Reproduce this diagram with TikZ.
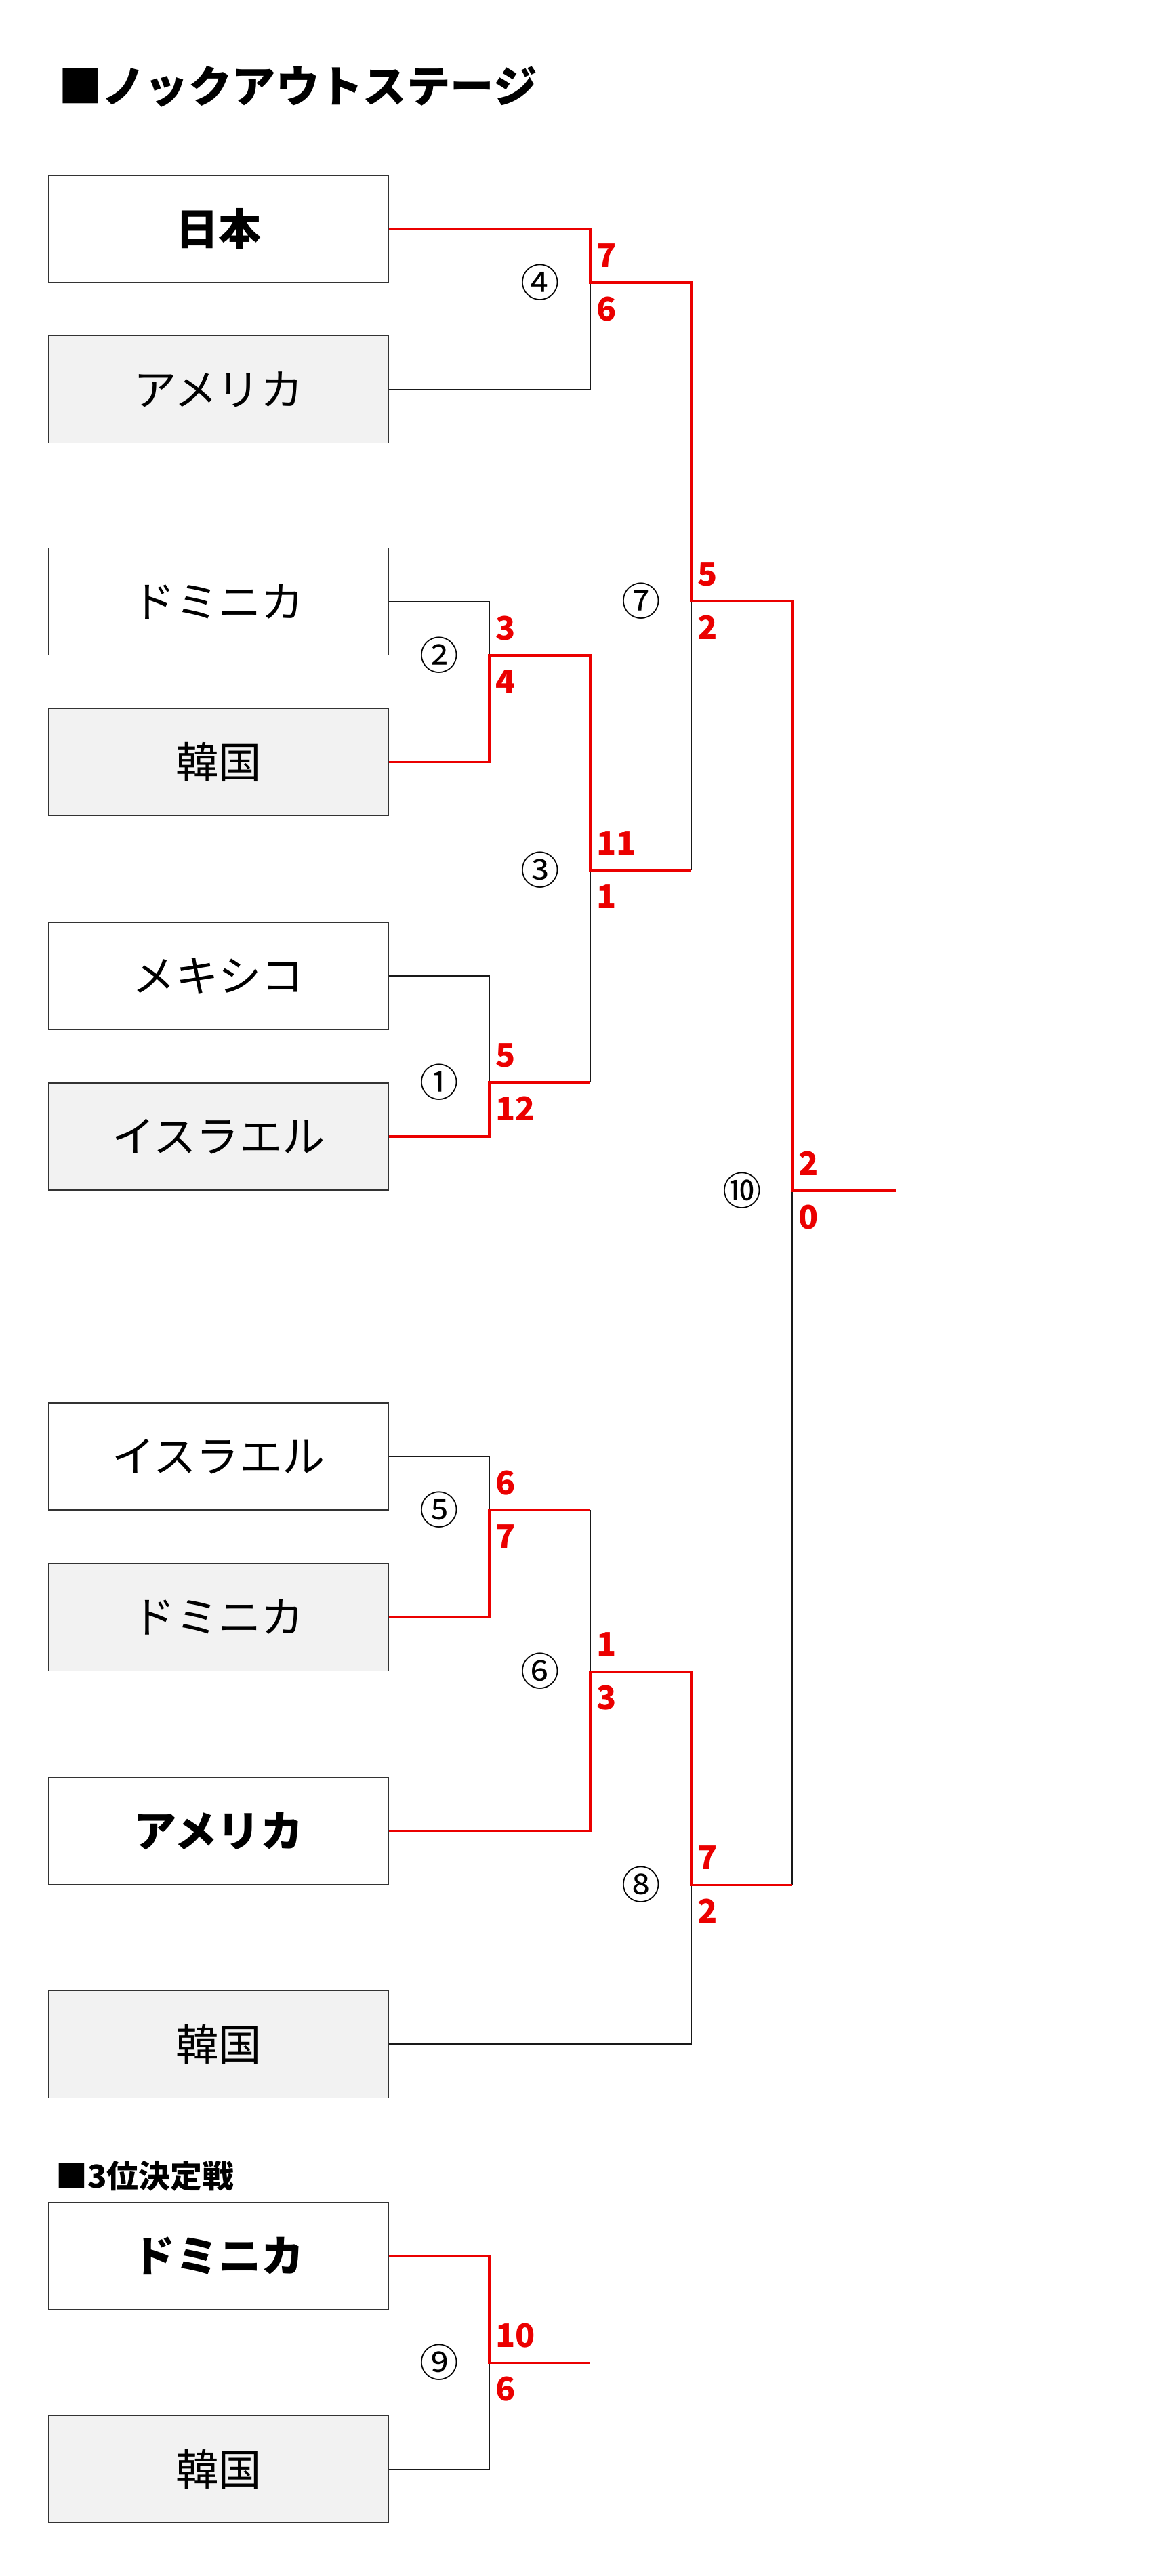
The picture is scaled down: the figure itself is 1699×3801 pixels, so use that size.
\documentclass[tikz,border=0pt]{standalone}
\usepackage{fontspec}
\setmainfont{Noto Sans CJK JP}
\usepackage{tikz}
\usetikzlibrary{calc}
\definecolor{winred}{RGB}{235,0,0}
\definecolor{lowfill}{RGB}{242,242,242}

\begin{document}
\begin{tikzpicture}[
    x=0.3mm, y=-0.3mm,
    team/.style={rectangle, draw=black!80, line width=0.9pt,
                minimum width=150.3mm, minimum height=47.4mm,
                inner sep=0pt, font=\fontsize{54}{60}\selectfont},
    low/.style={fill=lowfill},
    hl/.style={font=\fontsize{54}{60}\selectfont\bfseries},
    lose/.style={draw=black!90, line width=1pt},
    win/.style={draw=winred, line width=2.6pt},
    score/.style={anchor=west, inner sep=0pt, text=winred,
                font=\fontsize{41}{45}\selectfont\bfseries},
    game/.style={inner sep=0pt, font=\fontsize{49}{52}\selectfont},
    head/.style={anchor=west, inner sep=0pt, font=\bfseries}
]
\useasboundingbox (0,0) rectangle (1699,3801);

% Headings
\node[head, font=\fontsize{55}{60}\selectfont\bfseries] (title) at (86,128) {■ノックアウトステージ};
\node[head, font=\fontsize{40}{44}\selectfont\bfseries] (third) at (82,3211) {■3位決定戦};

% Teams
\node[team, hl] (jpn) at (322.5,337.5) {日本};
\node[team, low] (usa1) at (322.5,574.5) {アメリカ};
\node[team] (dom1) at (322.5,887.5) {ドミニカ};
\node[team, low] (kor1) at (322.5,1124.5) {韓国};
\node[team] (mex) at (322.5,1440) {メキシコ};
\node[team, low] (isr1) at (322.5,1677) {イスラエル};
\node[team] (isr2) at (322.5,2149) {イスラエル};
\node[team, low] (dom2) at (322.5,2386) {ドミニカ};
\node[team, hl] (usa2) at (322.5,2701.5) {アメリカ};
\node[team, low] (kor2) at (322.5,3016) {韓国};
\node[team, hl] (dom3) at (322.5,3328.5) {ドミニカ};
\node[team, low] (kor3) at (322.5,3643.5) {韓国};

% Junctions
\coordinate (j1) at (722,1597);
\coordinate (j2) at (722,967);
\coordinate (j3) at (871,1284);
\coordinate (j4) at (871,417);
\coordinate (j5) at (722,2228);
\coordinate (j6) at (871,2466);
\coordinate (j7) at (1020,887);
\coordinate (j8) at (1020,2781);
\coordinate (j9) at (722,3486);
\coordinate (j10) at (1169,1757);
\coordinate (fin) at (1322,1757);
\coordinate (fin9) at (871,3486);

% Lost sides
\draw[lose] (usa1.east) -| (j4);
\draw[lose] (dom1.east) -| (j2);
\draw[lose] (mex.east) -| (j1);
\draw[lose] (j1 -| j3) -- (j3);
\draw[lose] (j3 -| j7) -- (j7);
\draw[lose] (isr2.east) -| (j5);
\draw[lose] (j5 -| j6) -- (j6);
\draw[lose] (kor2.east) -| (j8);
\draw[lose] (j8 -| j10) -- (j10);
\draw[lose] (kor3.east) -| (j9);

% Winners
\draw[win] (jpn.east) -| (j4) -| (j7) -| (j10) -- (fin);
\draw[win] (kor1.east) -| (j2) -| (j3) -- (j3 -| j7);
\draw[win] (isr1.east) -| (j1) -- (j1 -| j3);
\draw[win] (dom2.east) -| (j5) -- (j5 -| j6);
\draw[win] (usa2.east) -| (j6) -| (j8) -- (j8 -| j10);
\draw[win] (dom3.east) -| (j9) -- (fin9);

% Game numbers
\node[game] (g1) at ($(j1)+(-74,0)$) {①};
\node[game] (g2) at ($(j2)+(-74,0)$) {②};
\node[game] (g3) at ($(j3)+(-74,0)$) {③};
\node[game] (g4) at ($(j4)+(-74,0)$) {④};
\node[game] (g5) at ($(j5)+(-74,0)$) {⑤};
\node[game] (g6) at ($(j6)+(-74,0)$) {⑥};
\node[game] (g7) at ($(j7)+(-74,0)$) {⑦};
\node[game] (g8) at ($(j8)+(-74,0)$) {⑧};
\node[game] (g9) at ($(j9)+(-74,0)$) {⑨};
\node[game] (g10) at ($(j10)+(-74,0)$) {⑩};

% Scores
\node[score] (s1a) at ($(j1)+(9,-40)$) {5};
\node[score] (s1b) at ($(j1)+(9,39)$) {12};
\node[score] (s2a) at ($(j2)+(9,-40)$) {3};
\node[score] (s2b) at ($(j2)+(9,39)$) {4};
\node[score] (s3a) at ($(j3)+(9,-40)$) {11};
\node[score] (s3b) at ($(j3)+(9,39)$) {1};
\node[score] (s4a) at ($(j4)+(9,-40)$) {7};
\node[score] (s4b) at ($(j4)+(9,39)$) {6};
\node[score] (s5a) at ($(j5)+(9,-40)$) {6};
\node[score] (s5b) at ($(j5)+(9,39)$) {7};
\node[score] (s6a) at ($(j6)+(9,-40)$) {1};
\node[score] (s6b) at ($(j6)+(9,39)$) {3};
\node[score] (s7a) at ($(j7)+(9,-40)$) {5};
\node[score] (s7b) at ($(j7)+(9,39)$) {2};
\node[score] (s8a) at ($(j8)+(9,-40)$) {7};
\node[score] (s8b) at ($(j8)+(9,39)$) {2};
\node[score] (s9a) at ($(j9)+(9,-40)$) {10};
\node[score] (s9b) at ($(j9)+(9,39)$) {6};
\node[score] (s10a) at ($(j10)+(9,-40)$) {2};
\node[score] (s10b) at ($(j10)+(9,39)$) {0};
\end{tikzpicture}
\end{document}
